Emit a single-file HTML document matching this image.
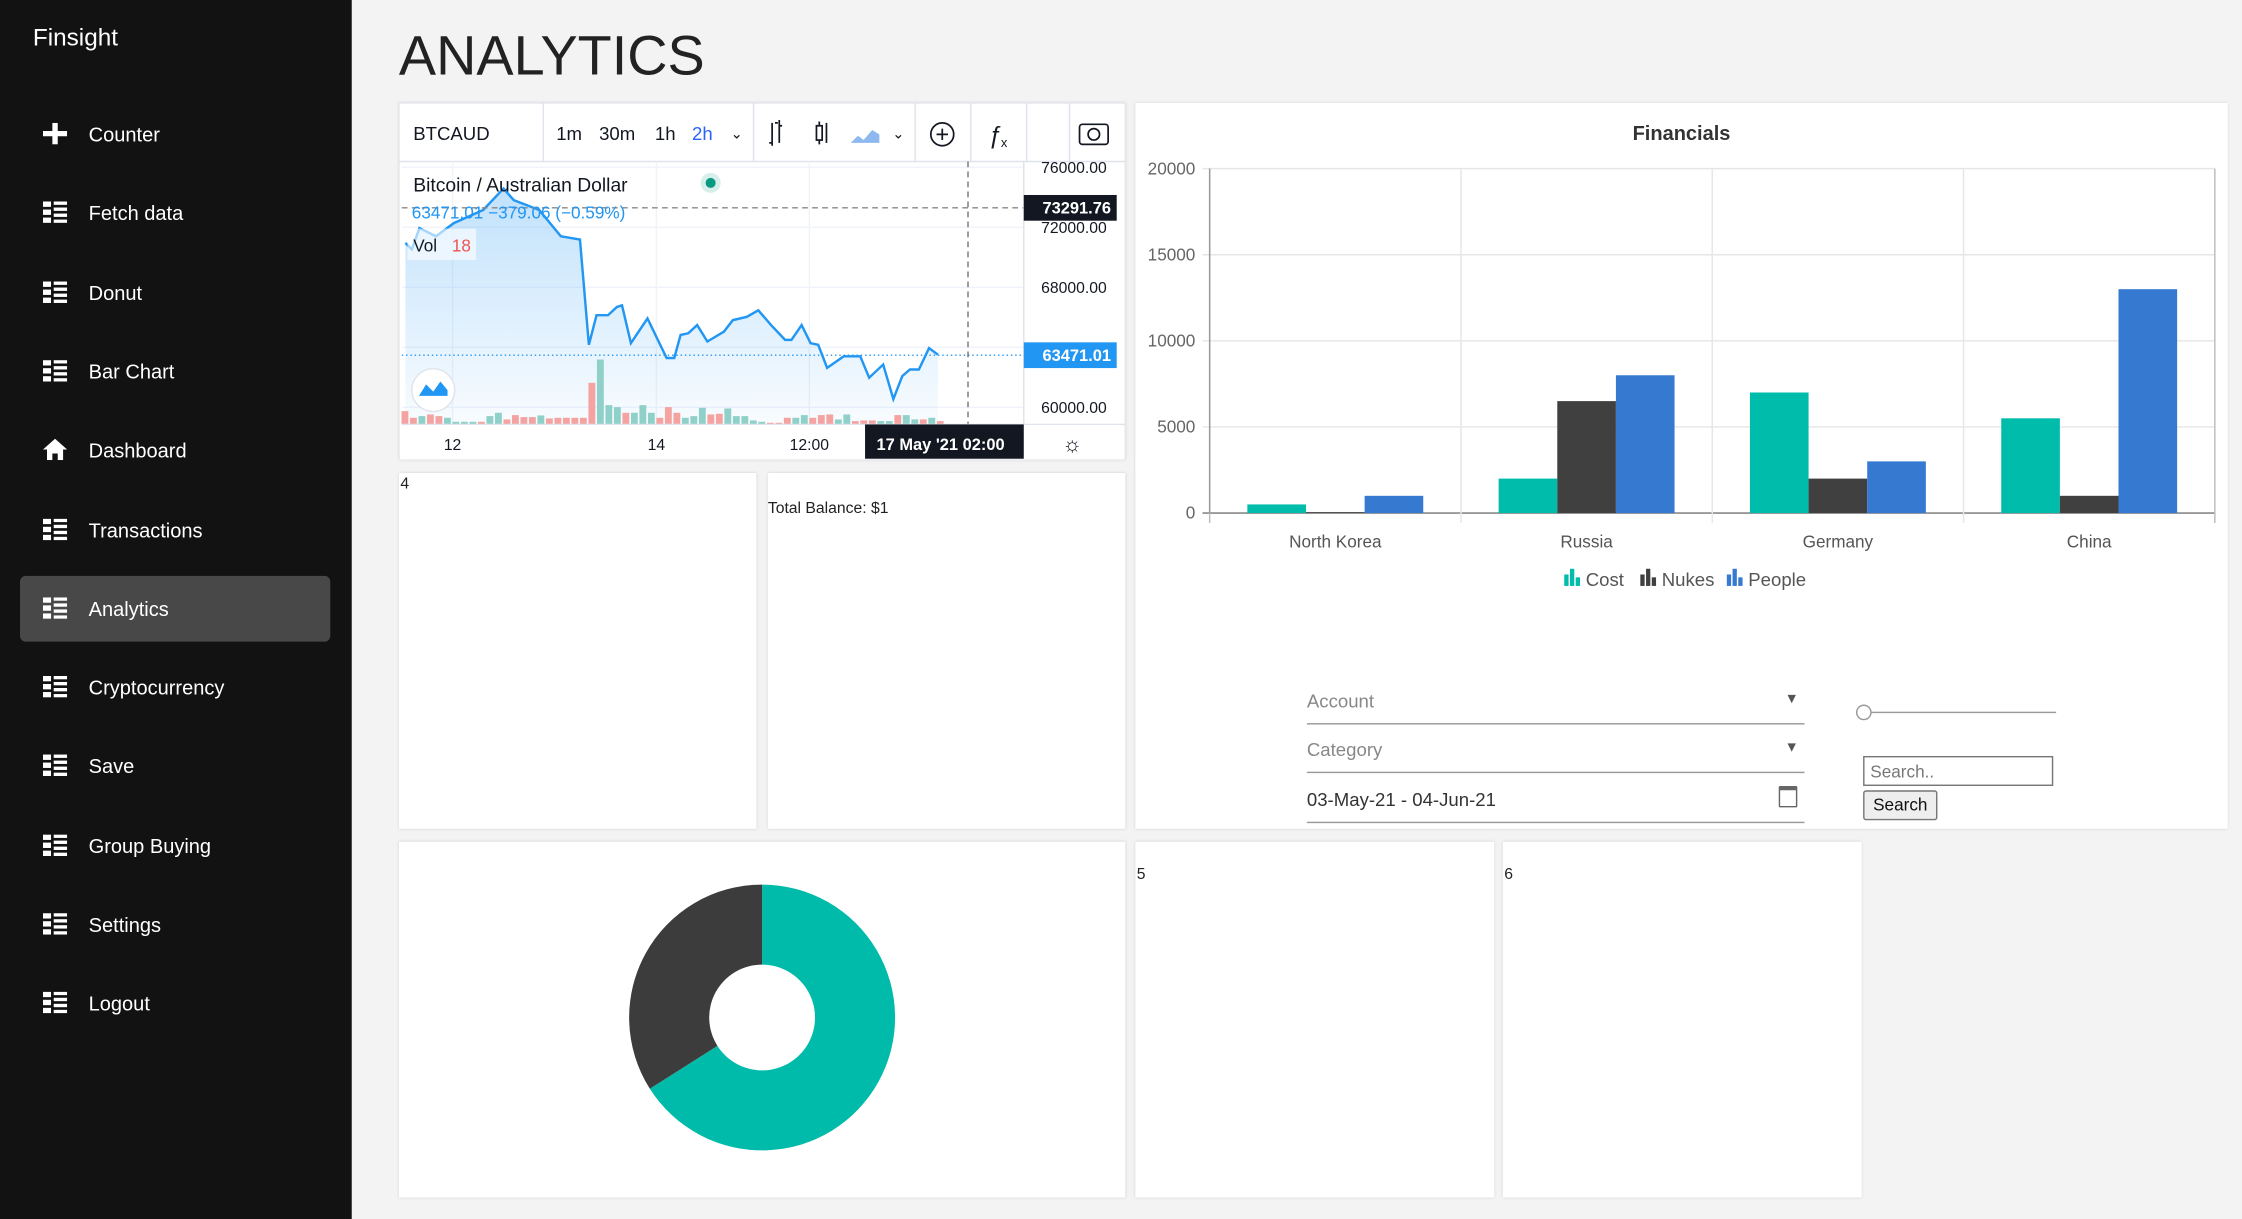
<!DOCTYPE html>
<html><head><meta charset="utf-8">
<style>
html,body{margin:0;padding:0;width:2242px;height:1219px;overflow:hidden;background:#f3f3f3;font-family:"Liberation Sans",sans-serif}
#root{position:absolute;left:0;top:0;width:1568px;height:853px;transform:scale(1.42985,1.42907);transform-origin:0 0;background:#f3f3f3}
.abs{position:absolute}
#sidebar{left:0;top:0;width:246px;height:853px;background:#121212}
.brand{left:23px;top:17px;color:#fff;font-size:17px}
.nav{left:14px;width:217px;height:46px;color:#fff;font-size:14px;border-radius:4px}
.nav span.t{position:absolute;left:48px;top:15px}
.nav .ic{position:absolute;left:16px;top:15px;width:17px;height:15px}
.card{background:#fff;box-shadow:0 0 2px rgba(0,0,0,.15)}
.small{font-size:11px;color:#222}
.field{font-size:13px;color:#888;border-bottom:1px solid #999}
</style></head><body>
<div id="root">
<div id="sidebar" class="abs">
 <div class="abs brand">Finsight</div>
 <div id="navlist"></div>
</div>
<div class="abs" style="left:279px;top:18px;font-size:39px;color:#222">ANALYTICS</div>

<!-- trading widget -->
<div class="abs card" style="left:279px;top:72px;width:508px;height:250px">
<svg width="508" height="250" style="position:absolute;left:0;top:0" id="tv" font-family="Liberation Sans, sans-serif">
 <rect x="0" y="0" width="508" height="250" fill="#fff" stroke="#e0e3eb"/>
 <line x1="0" y1="41" x2="508" y2="41" stroke="#e0e3eb"/>
 <g stroke="#e0e3eb"><line x1="101" y1="0" x2="101" y2="41"/><line x1="248" y1="0" x2="248" y2="41"/><line x1="361" y1="0" x2="361" y2="41"/><line x1="400" y1="0" x2="400" y2="41"/><line x1="439" y1="0" x2="439" y2="41"/><line x1="469" y1="0" x2="469" y2="41"/></g>
 <text x="10" y="26" font-size="13" fill="#131722">BTCAUD</text>
 <text x="110" y="26" font-size="13" fill="#131722">1m</text>
 <text x="140" y="26" font-size="13" fill="#131722">30m</text>
 <text x="179" y="26" font-size="13" fill="#131722">1h</text>
 <text x="205" y="26" font-size="13" fill="#2962ff">2h</text>
 <text x="232" y="25" font-size="10" fill="#131722">⌄</text>
 <g stroke="#131722" fill="none" stroke-width="1.2">
  <path d="M261 14v16M259 28h2M265 14h-2M266 12v16M266 16h2"/>
  <rect x="292" y="16" width="4" height="10"/><path d="M294 13v3M294 26v3M299 14v14"/>
  <circle cx="380" cy="22" r="8"/><path d="M376 22h8M380 18v8"/>
  <rect x="476" y="15" width="20" height="14" rx="2"/><circle cx="486" cy="22" r="4"/>
 </g>
 <path d="M316 28l5-5 4 3 6-7 5 3v6z" fill="#8db8f0"/>
 <text x="345" y="25" font-size="10" fill="#131722">⌄</text>
 <text x="412" y="28" font-size="17" font-style="italic" fill="#131722">ƒ</text><text x="421" y="31" font-size="9" fill="#131722">x</text>
 <g id="tvplot"></g>
</svg>
</div>

<div class="abs card" style="left:279px;top:331px;width:250px;height:249px"><div class="abs small" style="left:1px;top:2px">4</div></div>
<div class="abs card" style="left:537px;top:331px;width:250px;height:249px"><div class="abs small" style="left:0;top:19px">Total Balance: $1</div></div>

<!-- financials -->
<div class="abs card" style="left:794px;top:72px;width:764px;height:508px">
<svg width="764" height="508" style="position:absolute;left:0;top:0" id="fin" font-family="Liberation Sans, sans-serif"></svg>
 <div class="abs field" style="left:120px;top:411px;width:348px;height:23px">Account<span style="position:absolute;right:4px;top:1px;font-size:10px;color:#555">▼</span></div>
 <div class="abs field" style="left:120px;top:445px;width:348px;height:23px">Category<span style="position:absolute;right:4px;top:1px;font-size:10px;color:#555">▼</span></div>
 <div class="abs field" style="left:120px;top:480px;width:348px;height:23px;color:#333">03-May-21 - 04-Jun-21<span style="position:absolute;right:5px;top:-2px;width:11px;height:11px;border:1.5px solid #666;border-top-width:3px;border-radius:1px"></span></div>
 <div class="abs" style="left:510px;top:426px;width:134px;height:1px;background:#999"></div>
 <div class="abs" style="left:504px;top:421px;width:9px;height:9px;border:1px solid #999;border-radius:50%;background:#fff"></div>
 <div class="abs" style="left:509px;top:457px;width:133px;height:21px;border:1px solid #777;font-size:12px;color:#777;line-height:21px;padding-left:4px;box-sizing:border-box">Search..</div>
 <div class="abs" style="left:509px;top:481px;width:52px;height:21px;border:1px solid #777;background:#eee;font-size:12px;color:#111;line-height:19px;text-align:center;box-sizing:border-box;border-radius:2px">Search</div>
</div>

<div class="abs card" style="left:279px;top:589px;width:508px;height:249px">
<svg width="508" height="249" id="donut" style="position:absolute;left:0;top:0"></svg></div>
<div class="abs card" style="left:794px;top:589px;width:251px;height:249px"><div class="abs small" style="left:1px;top:17px">5</div></div>
<div class="abs card" style="left:1051px;top:589px;width:251px;height:249px"><div class="abs small" style="left:1px;top:17px">6</div></div>
</div>

<script>
const NS="http://www.w3.org/2000/svg";
function mk(p,tag,a,txt){const e=document.createElementNS(NS,tag);for(const k in a)e.setAttribute(k,a[k]);if(txt!==undefined)e.textContent=txt;p.appendChild(e);return e;}

/* sidebar */
const navItems=["Counter","Fetch data","Donut","Bar Chart","Dashboard","Transactions","Analytics","Cryptocurrency","Save","Group Buying","Settings","Logout"];
const nl=document.getElementById('navlist');
navItems.forEach((n,i)=>{
 const d=document.createElement('div');
 d.className='abs nav';
 d.style.top=(71+i*55.3)+'px';
 if(n==='Analytics')d.style.background='#484848';
 
 
 let icon;
 if(n==='Counter')icon='<svg class="ic" viewBox="0 0 18 16"><path d="M7 0h4v6h7v4h-7v6H7v-6H0V6h7z" fill="#fff"/></svg>';
 else if(n==='Dashboard')icon='<svg class="ic" viewBox="0 0 18 16"><path d="M9 0l9 8h-3v8h-4v-5H7v5H3V8H0z" fill="#fff"/></svg>';
 else icon='<svg class="ic" viewBox="0 0 18 16" fill="#fff"><rect x="0" y="0" width="6" height="4"/><rect x="0" y="6" width="6" height="4"/><rect x="0" y="12" width="6" height="4"/><rect x="8" y="0" width="10" height="2.5"/><rect x="8" y="4.5" width="10" height="2.5"/><rect x="8" y="9" width="10" height="2.5"/><rect x="8" y="13.5" width="10" height="2.5"/></svg>';
 d.innerHTML=icon+'<span class="t">'+n+'</span>';
 nl.appendChild(d);
});

/* ===== trading chart data ===== */
const priceTimes=[0.6,1.1,1.7,3.0,4.4,6.7,8.3,9.1,11.1,12.8,14.3,15.0,15.6,16.5,17.2,17.6,18.3,19.6,21.1,21.7,22.2,22.8,23.5,24.3,25.6,26.3,27.4,28.3,29.3,30.4,30.9,31.7,32.4,33.0,33.7,35.0,36.3,37.0,38.1,38.9,39.6,40.2,40.9,41.7,42.4];
const prices=[70958,70520,71945,71397,72274,73150,74575,73808,73150,71397,71178,64163,66136,66136,66684,66794,64273,65918,63286,63286,64821,64931,65479,64383,65041,65808,66027,66465,65479,64492,64492,65479,64273,64163,62629,63396,63396,61971,62848,60546,62081,62519,62519,63944,63505];
const volumes=[40,20,25,30,25,20,8,8,8,8,25,35,15,28,22,22,27,18,20,20,20,20,125,195,58,52,35,35,58,35,20,52,35,20,25,50,30,32,48,25,25,12,8,5,5,20,20,28,20,28,30,15,30,10,12,12,10,10,28,28,15,15,20,10];
const volUp=[0,0,1,0,0,1,1,1,1,0,1,1,0,0,0,0,1,0,0,0,0,0,0,1,1,1,0,1,1,1,0,0,0,1,1,1,0,0,1,1,1,1,1,0,0,0,1,1,0,0,0,1,1,0,0,0,1,1,0,1,1,0,1,0];
const volStart=0.56, volStep=0.667;
const priceTicks=[76000,72000,68000,60000];
const timeTicks=[{t:4.3,l:"12"},{t:20.3,l:"14"},{t:32.3,l:"12:00"}];
const lastPrice=63471.01, hiPrice=73291.76;

const tv=document.getElementById('tvplot');
const px0=2, px1=437, py0=41, py1=225;
const tx=t=>px0-2.8+t*8.91;
const py=p=>45+(76000-p)*0.0105;
const vy=v=>py1-v*0.233;
priceTicks.concat([64000]).forEach(p=>mk(tv,'line',{x1:px0,x2:px1,y1:py(p),y2:py(p),stroke:'#f0f3fa'}));
timeTicks.forEach(o=>mk(tv,'line',{x1:tx(o.t),x2:tx(o.t),y1:py0,y2:py1,stroke:'#f0f3fa'}));
const grad=mk(mk(tv,'defs',{}),'linearGradient',{id:'ag',x1:0,y1:0,x2:0,y2:1});
mk(grad,'stop',{offset:'0','stop-color':'#2196f3','stop-opacity':'0.28'});
mk(grad,'stop',{offset:'1','stop-color':'#2196f3','stop-opacity':'0.03'});
let d='M'+tx(priceTimes[0])+' '+py(prices[0]);
priceTimes.forEach((t,i)=>{if(i)d+=' L'+tx(t)+' '+py(prices[i]);});
const area=mk(tv,'path',{d:d+' L'+tx(priceTimes[priceTimes.length-1])+' '+py1+' L'+tx(priceTimes[0])+' '+py1+'Z',fill:'url(#ag)'});


volumes.forEach((v,i)=>{
 const t=volStart+i*volStep;
 const r=mk(tv,'rect',{x:tx(t)-2.4,y:vy(v),width:4.8,height:py1-vy(v),fill:volUp[i]?'#8fd0c8':'#f4a3a1'});
 
 
});
const line=mk(tv,'path',{d:d,fill:'none',stroke:'#2196f3','stroke-width':1.7});


mk(tv,'line',{x1:px0,x2:px1,y1:py(hiPrice),y2:py(hiPrice),stroke:'#888','stroke-dasharray':'4 3'});
mk(tv,'line',{x1:px0,x2:px1,y1:py(lastPrice),y2:py(lastPrice),stroke:'#2196f3','stroke-dasharray':'1 2'});
mk(tv,'line',{x1:398,x2:398,y1:py0,y2:py1,stroke:'#777','stroke-dasharray':'4 3'});
mk(tv,'line',{x1:px1,x2:px1,y1:py0,y2:py1,stroke:'#e0e3eb'});
mk(tv,'line',{x1:px0,x2:508,y1:py1,y2:py1,stroke:'#e0e3eb'});
priceTicks.forEach(p=>{const e=mk(tv,'text',{x:495,y:py(p)+4,'font-size':11,fill:'#131722','text-anchor':'end'},p.toFixed(2));});
mk(tv,'rect',{x:437,y:py(hiPrice)-9,width:65,height:18,fill:'#131722'});
mk(tv,'text',{x:498,y:py(hiPrice)+4,'font-size':11.5,fill:'#fff','text-anchor':'end','font-weight':'bold'},hiPrice.toFixed(2));
mk(tv,'rect',{x:437,y:py(lastPrice)-9,width:65,height:18,fill:'#2196f3'});
mk(tv,'text',{x:498,y:py(lastPrice)+4,'font-size':11.5,fill:'#fff','text-anchor':'end','font-weight':'bold'},lastPrice.toFixed(2));
timeTicks.forEach(o=>{const e=mk(tv,'text',{x:tx(o.t),y:243,'font-size':11,fill:'#131722','text-anchor':'middle'},o.l);});
mk(tv,'rect',{x:326,y:225,width:111,height:24,fill:'#131722'});
mk(tv,'text',{x:334,y:243,'font-size':11.5,fill:'#fff','font-weight':'bold'},"17 May '21   02:00");
mk(tv,'text',{x:464,y:244,'font-size':15,fill:'#131722'},"☼");
mk(tv,'text',{x:10,y:62,'font-size':13.5,fill:'#131722'},"Bitcoin / Australian Dollar");
mk(tv,'circle',{cx:218,cy:56,r:7,fill:'#d6efea'});mk(tv,'circle',{cx:218,cy:56,r:3.5,fill:'#089981'});
mk(tv,'text',{x:9,y:81,'font-size':12,fill:'#2196f3'},"63471.01  −379.06 (−0.59%)");
mk(tv,'rect',{x:6,y:88,width:48,height:22,fill:'#fff','fill-opacity':0.6});
mk(tv,'text',{x:10,y:104,'font-size':12,fill:'#131722'},"Vol");
mk(tv,'text',{x:37,y:104,'font-size':12,fill:'#ef5350'},"18");
mk(tv,'circle',{cx:24,cy:201,r:15,fill:'#fff',stroke:'#e0e3eb'});
mk(tv,'path',{d:'M14 205 l5-8 5 5 5-7 5 6 v4h-20z',fill:'#2196f3'});

/* ===== financials ===== */
const finCategories=["North Korea","Russia","Germany","China"];
const finCost=[500,2000,7000,5500];
const finNukes=[50,6500,2000,1000];
const finPeople=[1000,8000,3000,13000];
const finTicks=[0,5000,10000,15000,20000];
const finSeries=[{n:"Cost",v:finCost,c:"#00bcaa"},{n:"Nukes",v:finNukes,c:"#404040"},{n:"People",v:finPeople,c:"#3679d1"}];
const fin=document.getElementById('fin');
const fx0=52, fx1=755, fy0=287, fy1=46;
const fy=v=>fy0-(v/20000)*(fy0-fy1);
const band=(fx1-fx0)/finCategories.length;
mk(fin,'text',{x:382,y:26,'font-size':14,'font-weight':'bold',fill:'#333','text-anchor':'middle'},"Financials");
finTicks.forEach(t=>{
 mk(fin,'line',{x1:fx0-5,x2:fx1,y1:fy(t),y2:fy(t),stroke:t?'#e6e6e6':'#999','stroke-width':t?1:1.3});
 const e=mk(fin,'text',{x:fx0-10,y:fy(t)+4,'font-size':12,fill:'#666','text-anchor':'end'},String(t));
 
});
for(let i=0;i<=finCategories.length;i++)mk(fin,'line',{x1:fx0+band*i,x2:fx0+band*i,y1:fy1,y2:fy0+7,stroke:i==0||i==4?'#bbb':'#e6e6e6'});
mk(fin,'line',{x1:fx0,x2:fx0,y1:fy1,y2:fy0,stroke:'#999'});
const bw=band*0.7/3;
finCategories.forEach((c,i)=>{
 const e=mk(fin,'text',{x:fx0+band*(i+0.5),y:fy0+24,'font-size':12,fill:'#555','text-anchor':'middle'},c);
 
 finSeries.forEach((s,j)=>{
  const v=s.v[i];
  const r=mk(fin,'rect',{x:fx0+band*i+band*0.15+bw*j,y:fy(v),width:bw,height:fy0-fy(v),fill:s.c});
  
  
 });
});
let lx=300;
finSeries.forEach(s=>{
 const g=mk(fin,'g',{});
 
 
 mk(g,'rect',{x:lx,y:330,width:3,height:8,fill:s.c});mk(g,'rect',{x:lx+4,y:326,width:3,height:12,fill:s.c});mk(g,'rect',{x:lx+8,y:332,width:3,height:6,fill:s.c});
 mk(g,'text',{x:lx+15,y:338,'font-size':13,fill:'#555'},s.n);
 lx+=s.n.length*7.3+24;
});

/* ===== donut ===== */
const donutLabels=["Teal","Dark"];
const donutValues=[66,34];
const donutColors=["#00bbaa","#3c3c3c"];
const dn=document.getElementById('donut');
const cx=254, cy=123, R=93, r0=37;
const tot=donutValues.reduce((a,b)=>a+b,0);
let a0=0;
donutValues.forEach((v,i)=>{
 const a1=a0+v/tot*2*Math.PI;
 const p=(a,rr)=>[cx+rr*Math.sin(a),cy-rr*Math.cos(a)];
 const [x1,y1]=p(a0,R),[x2,y2]=p(a1,R),[x3,y3]=p(a1,r0),[x4,y4]=p(a0,r0);
 const lg=(a1-a0)>Math.PI?1:0;
 const s=mk(dn,'path',{d:`M${x1} ${y1}A${R} ${R} 0 ${lg} 1 ${x2} ${y2}L${x3} ${y3}A${r0} ${r0} 0 ${lg} 0 ${x4} ${y4}Z`,fill:donutColors[i]});
 
 
 a0=a1;
});
</script>
</body></html>
